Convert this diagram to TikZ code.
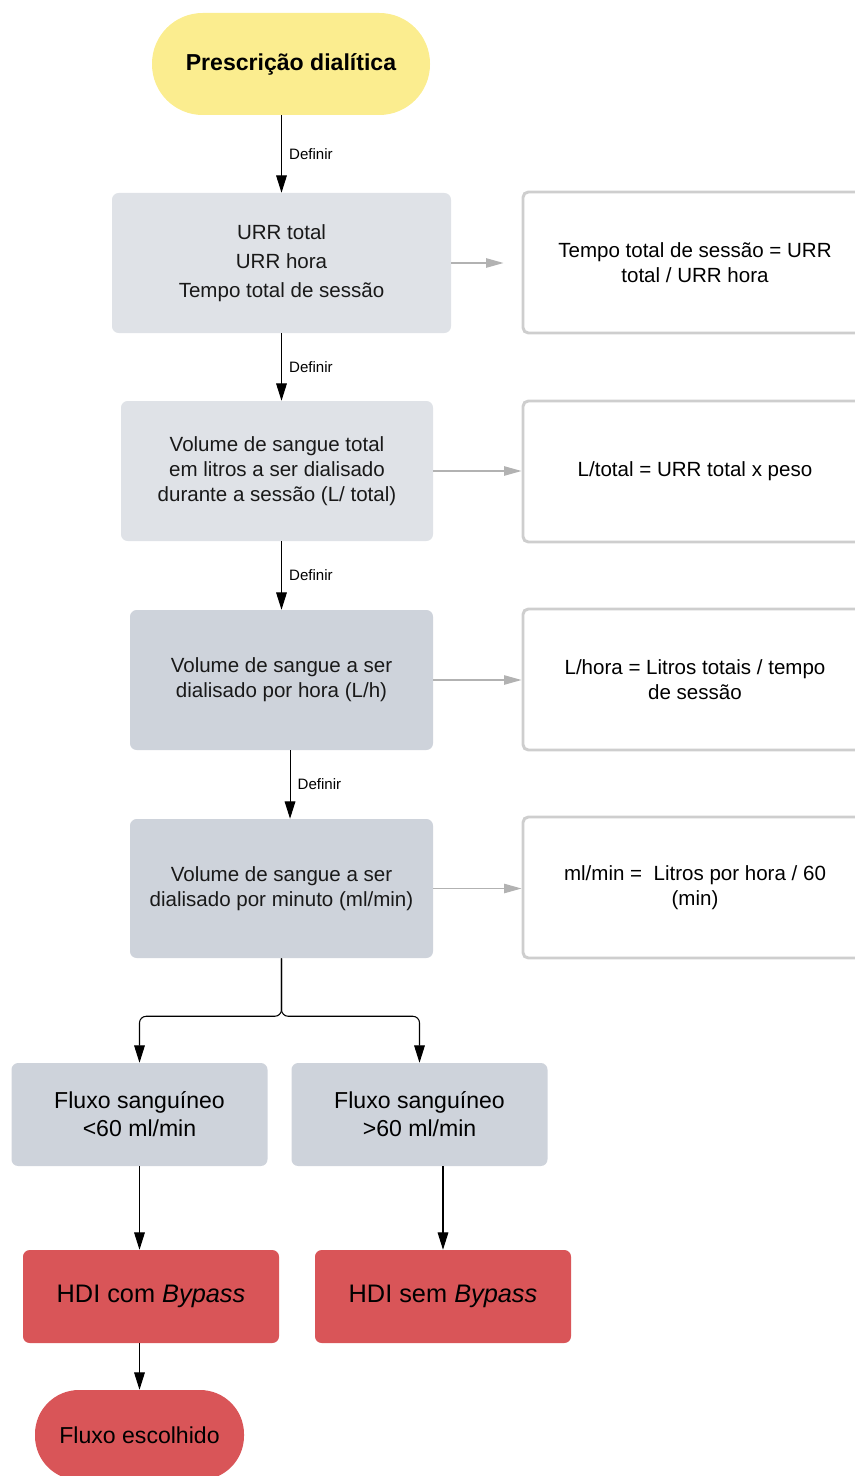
\documentclass[tikz,border=0pt]{standalone}
\usepackage{fontspec}
\setmainfont{Liberation Sans}
\usepackage{xcolor}
\usepackage{tikz}
\usetikzlibrary{arrows.meta,positioning}

\definecolor{termyellow}{RGB}{251,237,143}
\definecolor{boxlight}{RGB}{223,226,231}
\definecolor{boxdark}{RGB}{206,211,219}
\definecolor{hdired}{RGB}{217,85,88}
\definecolor{notegray}{RGB}{206,206,206}
\definecolor{arrowgray}{RGB}{178,178,178}

\begin{document}
\begin{tikzpicture}[
    x=0.75pt, y=0.75pt,
    proc/.style={rounded corners=5pt, minimum height=105pt, align=center, text=black!90, font=\fontsize{15.4}{18.75}\selectfont},
    light/.style={fill=boxlight, proc},
    dark/.style={fill=boxdark, proc},
    note/.style={draw=notegray, line width=2.2pt, fill=white, rounded corners=4pt, minimum width=258pt, minimum height=105.75pt, align=center, font=\fontsize{15.4}{18.75}\selectfont},
    flux/.style={fill=boxdark, rounded corners=5pt, minimum width=192pt, minimum height=77.25pt, align=center, font=\fontsize{17.3}{21}\selectfont},
    hdi/.style={fill=hdired, rounded corners=5pt, minimum width=192pt, minimum height=69.75pt, align=center, font=\fontsize{19}{22}\selectfont},
    arrow/.style={-{Triangle[length=13pt,width=8pt]}, line width=0.8pt},
    garrow/.style={-{Triangle[length=13pt,width=7pt]}, draw=arrowgray, line width=0.9pt},
    lbl/.style={right, xshift=2pt, font=\fontsize{11.3}{13}\selectfont}
]
\useasboundingbox (0,0) rectangle (855,-1476);

\node[fill=termyellow, rounded corners=38pt, minimum width=208.5pt, minimum height=76.5pt, font=\fontsize{17.3}{21}\bfseries] (start) at (291,-64) {Prescrição dialítica};

\node[light, minimum width=254.25pt, font=\fontsize{15.4}{21.75}\selectfont] (urr) at (281.5,-263) {URR total\\ URR hora\\ Tempo total de sessão};
\node[note] (tempo) at (695,-262.5) {Tempo total de sessão = URR\\ total / URR hora};

\node[light, minimum width=234pt] (voltot) at (277,-471) {Volume de sangue total\\ em litros a ser dialisado\\ durante a sessão (L/ total)};
\node[note] (ltotal) at (695,-471.5) {L/total = URR total x peso};

\node[dark, minimum width=227.25pt] (volhora) at (281.5,-680) {Volume de sangue a ser\\ dialisado por hora (L/h)};
\node[note] (lhora) at (695,-679.5) {L/hora = Litros totais / tempo\\ de sessão};

\node[dark, minimum width=227.25pt, minimum height=104.25pt] (volmin) at (281.5,-888.5) {Volume de sangue a ser\\ dialisado por minuto (ml/min)};
\node[note] (mlmin) at (695,-887.5) {ml/min =\ \ Litros por hora / 60\\ (min)};

\node[flux] (fluxlow) at (139.5,-1114.5) {Fluxo sanguíneo\\ <60 ml/min};
\node[flux] (fluxhigh) at (419.5,-1114.5) {Fluxo sanguíneo\\ >60 ml/min};

\node[hdi] (hdicom) at (151,-1296.5) {HDI com \textit{Bypass}};
\node[hdi] (hdisem) at (443,-1296.5) {HDI sem \textit{Bypass}};

\node[fill=hdired, rounded corners=33pt, minimum width=156.75pt, minimum height=67.5pt, font=\fontsize{17.3}{21}\selectfont] (fim) at (139.5,-1435) {Fluxo escolhido};

\draw[arrow] (urr.north |- start.south) -- (urr.north) node[midway, lbl] {Definir};
\draw[arrow] (urr.south) -- (urr.south |- voltot.north) node[midway, lbl] {Definir};
\draw[arrow] (volhora.north |- voltot.south) -- (volhora.north) node[midway, lbl] {Definir};
\draw[arrow] ([xshift=6.4pt]volhora.south) -- ([xshift=6.4pt]volmin.north) node[midway, lbl] {Definir};

\draw[garrow, shorten >=13.5pt] (urr.east) -- (urr.east -| tempo.west);
\draw[garrow] (voltot.east) -- (voltot.east -| ltotal.west);
\draw[garrow] (volhora.east) -- (volhora.east -| lhora.west);
\draw[garrow] (volmin.east) -- (volmin.east -| mlmin.west);

\draw[arrow, rounded corners=5pt] (volmin.south) -- ++(0,-58) -| (fluxlow.north);
\draw[arrow, rounded corners=5pt] (volmin.south) -- ++(0,-58) -| (fluxhigh.north);

\draw[arrow] (fluxlow.south) -- (fluxlow.south |- hdicom.north);
\draw[arrow] (hdisem.north |- fluxhigh.south) -- (hdisem.north);
\draw[arrow] (fim.north |- hdicom.south) -- (fim.north);

\end{tikzpicture}
\end{document}
